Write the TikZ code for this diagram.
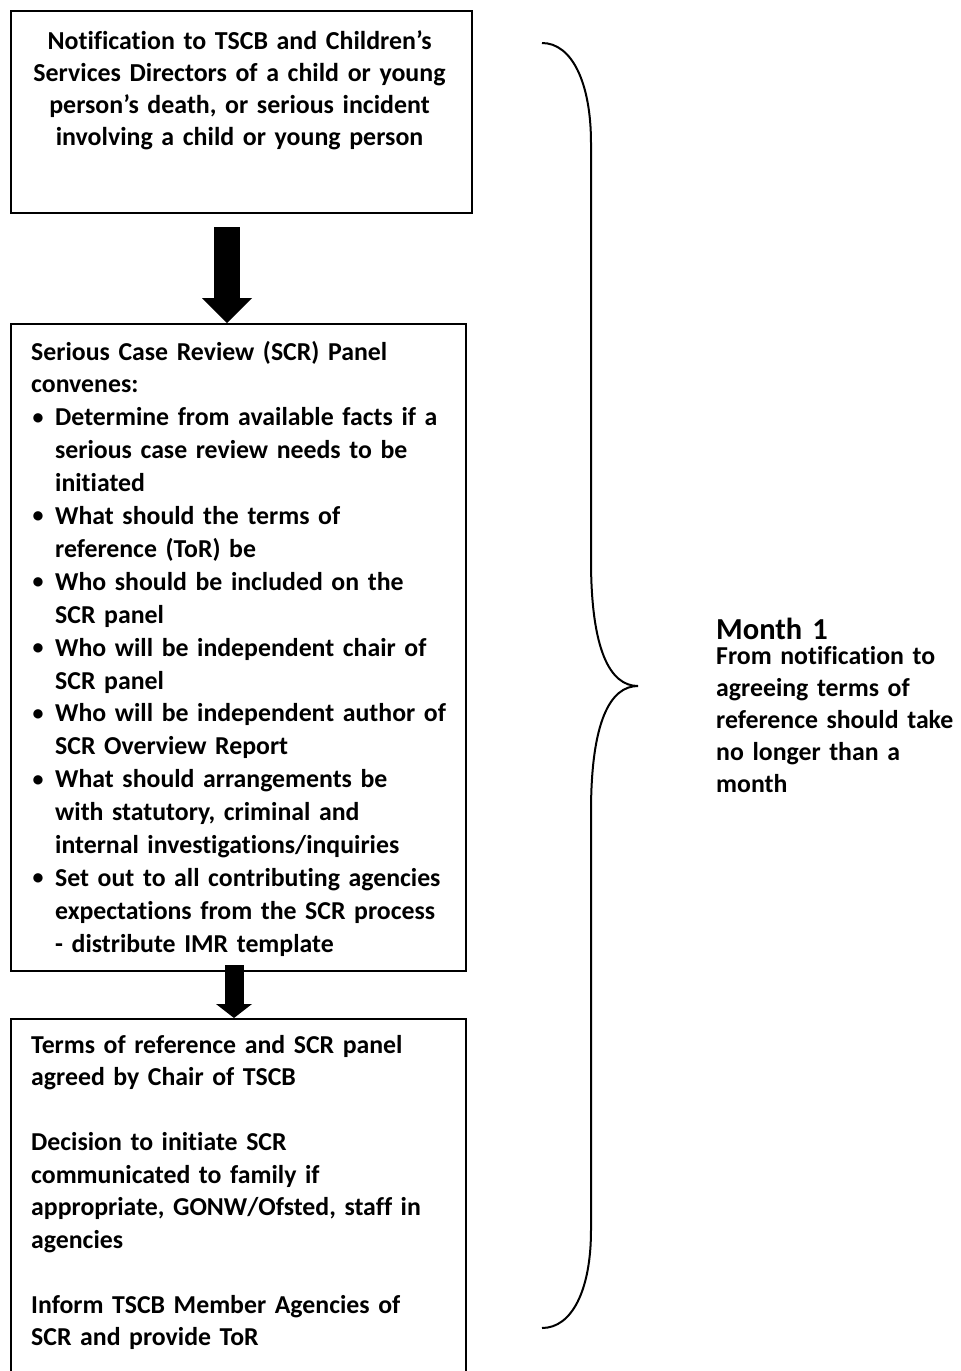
\documentclass[tikz,border=0pt]{standalone}
\usepackage{fontspec}
\setmainfont{Carlito}[Ligatures=NoCommon]
\usetikzlibrary{arrows.meta}
\newcommand\mybul{\makebox[24pt][l]{\hspace{1.5pt}\raisebox{1.6pt}{\scalebox{0.85}{\textbullet}}}}
\newcommand\myind{\hspace*{24pt}}
\begin{document}
\begin{tikzpicture}[x=1pt,y=-1pt,
  box/.style={draw, line width=2pt, rectangle, inner sep=0pt, anchor=north west},
  txt/.style={inner sep=0pt, anchor=base west, text width=440pt, align=left},
  bigarrow/.style={line width=#1, -{Triangle[width=50pt,length=25pt,line width=0pt]}},
  smallarrow/.style={line width=19pt, -{Triangle[width=36pt,length=14pt,line width=0pt]}},
  bracestyle/.style={line width=2pt}]
\useasboundingbox (0,0) rectangle (961,1371);
\clip (0,0) rectangle (961,1371);
% boxes
\node[box, minimum width=461pt, minimum height=202pt] (b1) at (10,10) {};
\node[box, minimum width=455pt, minimum height=647pt] (b2) at (10,323) {};
\node[box, minimum width=455pt, minimum height=380pt] (b3) at (10,1018) {};
% texts
\node[inner sep=0pt, anchor=base, text width=461pt, align=center,
      font=\bfseries\fontsize{25.9}{32}\selectfont] (t1) at (239.5,49)
 {Notification to TSCB and Children’s\\
  Services Directors of a child or young\\
  person’s death, or serious incident\\
  involving a child or young person};
\node[txt, font=\bfseries\fontsize{25.8}{32.9}\selectfont] (t2) at (31,360)
 {Serious Case Review (SCR) Panel\\
  convenes:\\
  \mybul Determine from available facts if a\\
  \myind serious case review needs to be\\
  \myind initiated\\
  \mybul What should the terms of\\
  \myind reference (ToR) be\\
  \mybul Who should be included on the\\
  \myind SCR panel\\
  \mybul Who will be independent chair of\\
  \myind SCR panel\\
  \mybul Who will be independent author of\\
  \myind SCR Overview Report\\
  \mybul What should arrangements be\\
  \myind with statutory, criminal and\\
  \myind internal investigations/inquiries\\
  \mybul Set out to all contributing agencies\\
  \myind expectations from the SCR process\\
  \myind - distribute IMR template};
\node[txt, font=\bfseries\fontsize{25.8}{32.5}\selectfont] (t3) at (31,1053)
 {Terms of reference and SCR panel\\
  agreed by Chair of TSCB\\[32.5pt]
  Decision to initiate SCR\\
  communicated to family if\\
  appropriate, GONW/Ofsted, staff in\\
  agencies\\[32.5pt]
  Inform TSCB Member Agencies of\\
  SCR and provide ToR};
\node[txt, text width=260pt, font=\bfseries\fontsize{30.5}{32}\selectfont] (m1) at (716,639) {Month 1};
\node[txt, text width=260pt, font=\bfseries\fontsize{25.8}{32}\selectfont] (r1) at (716,664)
 {From notification to\\
  agreeing terms of\\
  reference should take\\
  no longer than a\\
  month};
% arrows
\draw[bigarrow=26pt] ([shift={(-14.5,13)}]b1.south) -- ([shift={(-11.5,0)}]b2.north);
\draw[smallarrow] ([shift={(-4.5,-7)}]b2.south) -- ([shift={(-4.5,0)}]b3.north);
% brace
\coordinate (brtop) at (542,43);
\coordinate (brtip) at (638,686);
\coordinate (brbot) at (542,1328);
\draw[bracestyle] (brtop) .. controls (572,43) and (591,83) .. (591,143)
  -- (591,560) .. controls (591,650) and (610,686) .. (brtip)
  .. controls (610,686) and (591,722) .. (591,812)
  -- (591,1230) .. controls (591,1290) and (572,1328) .. (brbot);
\end{tikzpicture}
\end{document}
